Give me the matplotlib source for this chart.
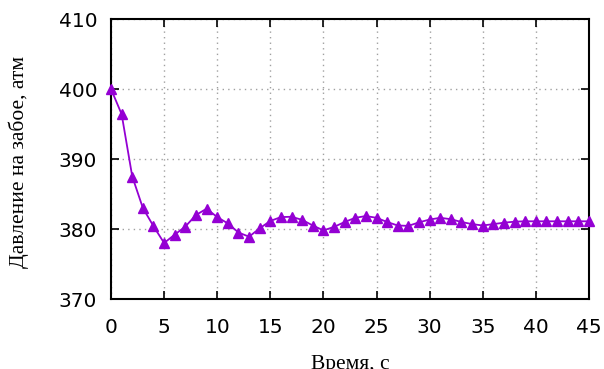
import matplotlib
matplotlib.use("Agg")
import matplotlib.pyplot as plt

# time, s
t = list(range(46))
# bottom-hole pressure, atm
p = [400.0, 396.4, 387.5, 383.0, 380.4, 378.0, 379.2, 380.35, 382.0, 382.9,
     381.7, 380.8, 379.5, 378.9, 380.1, 381.15, 381.7, 381.75, 381.3, 380.5,
     379.8, 380.3, 381.0, 381.6, 381.85, 381.6, 381.0, 380.5, 380.45, 380.95,
     381.35, 381.6, 381.4, 381.0, 380.7, 380.5, 380.7, 380.9, 381.05, 381.1,
     381.1, 381.1, 381.1, 381.1, 381.1, 381.1]

xticks = list(range(0, 46, 5))
yticks = [370, 380, 390, 400, 410]

fig = plt.figure(figsize=(6.04, 3.69), dpi=100)
ax = fig.add_axes([0.1838, 0.1897, 0.7912, 0.7588])

ax.plot(t, p, color="#9400D3", lw=1.3, marker="^", ms=7, clip_on=False, zorder=3)

ax.set_xlim(0, 45)
ax.set_ylim(370, 410)
ax.set_xticks(xticks)
ax.set_yticks(yticks)
ax.grid(True, color="#a0a0a0", linestyle=(0, (1, 3)), lw=1)
ax.tick_params(direction="in", top=True, right=True, length=6, width=1.2,
               labelsize=14.5)
ax.tick_params(axis="x", pad=14)
ax.tick_params(axis="y", pad=10)
for s in ax.spines.values():
    s.set_linewidth(1.5)

ax.set_ylabel("Давление на забое, атм", family="Liberation Serif", fontsize=15.5)
ax.yaxis.set_label_coords(-0.172, 0.49)
ax.set_xlabel("Время, с", family="Liberation Serif", fontsize=15.5, va="top")
ax.xaxis.set_label_coords(0.5, -0.2)

fig.savefig("out.png", dpi=100)
